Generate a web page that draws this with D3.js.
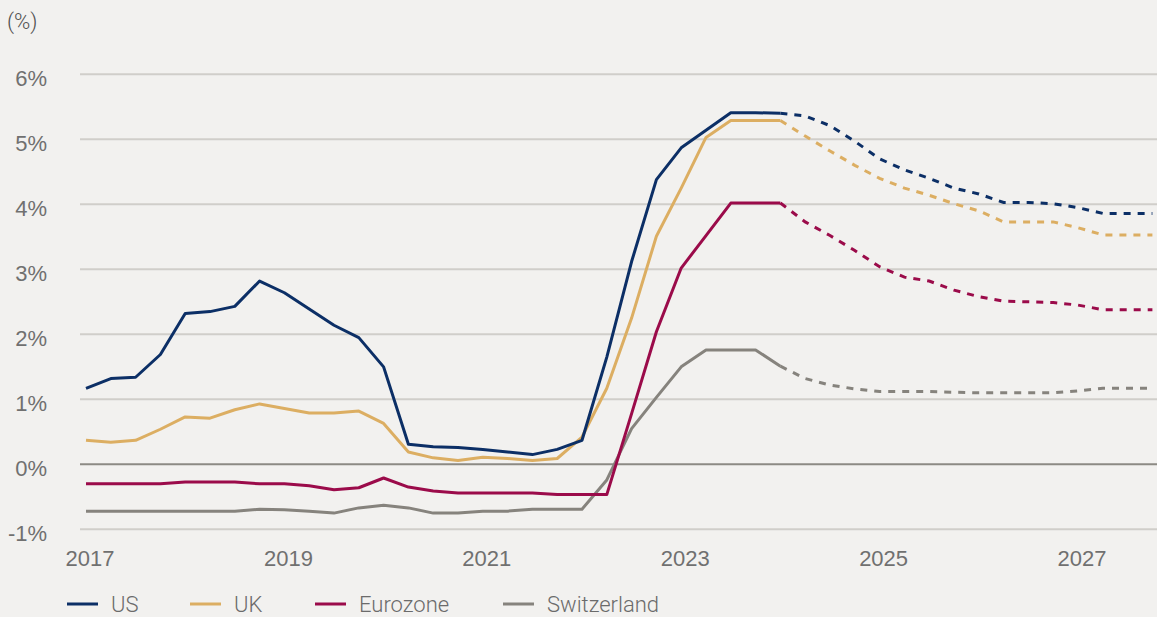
<!DOCTYPE html>
<html>
<head>
<meta charset="utf-8">
<script src="https://cdn.jsdelivr.net/npm/d3@7"></script>
<style>
  html, body { margin: 0; padding: 0; background: #f2f1ef; }
  svg { display: block; font-family: "Source Sans Pro", Roboto, "Noto Sans", sans-serif; font-weight: 300; }
  .y.axis .domain, .x.axis .domain { display: none; }
  .y.axis line { stroke: #d0ceca; stroke-width: 2; }
  .y.axis .zero line { stroke: #8c8a84; }
  .axis text { fill: #707070; font-size: 22px; }
</style>
</head>
<body>
<script>
// quarterly observations, Q1 2017 .. Q4 2027
var quarters = [
  "2017Q1","2017Q2","2017Q3","2017Q4","2018Q1","2018Q2","2018Q3","2018Q4",
  "2019Q1","2019Q2","2019Q3","2019Q4","2020Q1","2020Q2","2020Q3","2020Q4",
  "2021Q1","2021Q2","2021Q3","2021Q4","2022Q1","2022Q2","2022Q3","2022Q4",
  "2023Q1","2023Q2","2023Q3","2023Q4","2024Q1","2024Q2","2024Q3","2024Q4",
  "2025Q1","2025Q2","2025Q3","2025Q4","2026Q1","2026Q2","2026Q3","2026Q4",
  "2027Q1","2027Q2","2027Q3","2027Q4"];

var forecast_from = "2024Q1";

var us = [1.16,1.31,1.33,1.68,2.31,2.34,2.42,2.81,2.63,2.38,2.13,1.94,1.49,0.30,0.26,0.25,
          0.22,0.18,0.14,0.22,0.36,1.64,3.11,4.37,4.86,5.13,5.40,5.40,5.39,
          5.35,5.20,4.96,4.69,4.52,4.39,4.24,4.15,4.02,4.02,4.00,3.94,3.85,3.85,3.85];
var uk = [0.36,0.33,0.36,0.53,0.72,0.70,0.83,0.92,0.85,0.78,0.78,0.81,0.62,0.18,0.09,0.05,
          0.10,0.08,0.05,0.08,0.41,1.16,2.24,3.50,4.24,5.02,5.28,5.28,5.28,
          5.04,4.81,4.59,4.39,4.24,4.13,4.00,3.89,3.72,3.72,3.72,3.63,3.52,3.52,3.52];
var eurozone = [-0.31,-0.31,-0.31,-0.31,-0.28,-0.28,-0.28,-0.31,-0.31,-0.34,-0.40,-0.37,-0.22,-0.36,-0.42,-0.45,
          -0.45,-0.45,-0.45,-0.475,-0.475,-0.475,0.77,2.03,3.01,3.51,4.01,4.01,4.01,
          3.72,3.51,3.28,3.03,2.87,2.81,2.67,2.57,2.50,2.49,2.48,2.44,2.37,2.37,2.37];
var switzerland = [-0.73,-0.73,-0.73,-0.73,-0.73,-0.73,-0.73,-0.70,-0.71,-0.73,-0.76,-0.68,-0.64,-0.68,-0.76,-0.76,
          -0.73,-0.73,-0.70,-0.70,-0.70,-0.25,0.54,1.02,1.49,1.75,1.75,1.75,1.50,
          1.31,1.21,1.15,1.11,1.11,1.11,1.10,1.09,1.09,1.09,1.09,1.12,1.16,1.16,1.16];

var series_names = ["US", "UK", "Eurozone", "Switzerland"];
var series_colors = ["#0c2f66", "#dcae62", "#9b0b4a", "#86837d"];
var year_ticks = [2017, 2019, 2021, 2023, 2025, 2027];
var pct_ticks = [-1, 0, 1, 2, 3, 4, 5, 6];

var width = 1157, height = 617;

var svg = d3.select("body").append("svg")
    .attr("width", width)
    .attr("height", height);

var t_of = function(q) { return +q.slice(0, 4) + (+q.slice(5) - 1) / 4; };

var x_scale = d3.scaleLinear().domain([2017, 2027.75]).range([86, 1152.4]),
    y_scale = d3.scaleLinear().domain([-1, 6]).range([528.7, 73.7]);

// y-axis with grid lines
var y_axis = d3.axisLeft(y_scale)
    .tickValues(pct_ticks)
    .tickSize(-(width - 80))
    .tickPadding(33)
    .tickFormat(function(d) { return d + "%"; });

svg.append("g")
    .attr("class", "y axis")
    .attr("transform", "translate(80,0)")
    .call(y_axis)
  .selectAll(".tick")
    .classed("zero", function(d) { return d === 0; })
  .select("text")
    .attr("dy", "0.68em")
    .attr("y", -3);

svg.append("text")
    .attr("x", 7)
    .attr("y", 29)
    .style("font-size", "22px")
    .style("fill", "#505050")
    .text("(%)");

// x-axis
var x_axis = d3.axisBottom(x_scale)
    .tickValues(year_ticks)
    .tickSize(0)
    .tickPadding(0)
    .tickFormat(d3.format("d"));

svg.append("g")
    .attr("class", "x axis")
    .attr("transform", "translate(0,550)")
    .call(x_axis)
  .selectAll("text")
    .attr("dx", 3.5)
    .attr("dy", "0.73em");

// lines
var line = d3.line()
    .x(function(d) { return x_scale(d.t); })
    .y(function(d) { return y_scale(d.v); });

var split = quarters.indexOf(forecast_from);
var all_values = [us, uk, eurozone, switzerland];

var series = series_names.map(function(name, i) {
  var pts = quarters.map(function(q, j) { return {t: t_of(q), v: all_values[i][j]}; });
  return {name: name, color: series_colors[i], hist: pts.slice(0, split + 1), fcst: pts.slice(split)};
});

var lines = svg.append("g").attr("class", "lines");

// draw back to front so US sits on top
series.slice().reverse().forEach(function(s) {
  lines.append("path")
      .attr("d", line(s.fcst))
      .style("fill", "none")
      .style("stroke", s.color)
      .style("stroke-width", 3)
      .style("stroke-dasharray", "7,7");
  lines.append("path")
      .attr("d", line(s.hist))
      .style("fill", "none")
      .style("stroke", s.color)
      .style("stroke-width", 3)
      .style("stroke-linejoin", "round");
});

// legend
var legend_x = [67, 190, 315, 503];

var legend = svg.append("g")
    .attr("class", "legend")
    .attr("transform", "translate(0,604)");

var item = legend.selectAll(".item")
    .data(series)
  .enter().append("g")
    .attr("class", "item")
    .attr("transform", function(d, i) { return "translate(" + legend_x[i] + ",0)"; });

item.append("line")
    .attr("x1", 0)
    .attr("x2", 31)
    .style("stroke", function(d) { return d.color; })
    .style("stroke-width", 3);

item.append("text")
    .attr("x", 44)
    .attr("dy", "0.35em")
    .style("font-size", "22px")
    .style("fill", "#6b6b6b")
    .text(function(d) { return d.name; });
</script>
</body>
</html>
